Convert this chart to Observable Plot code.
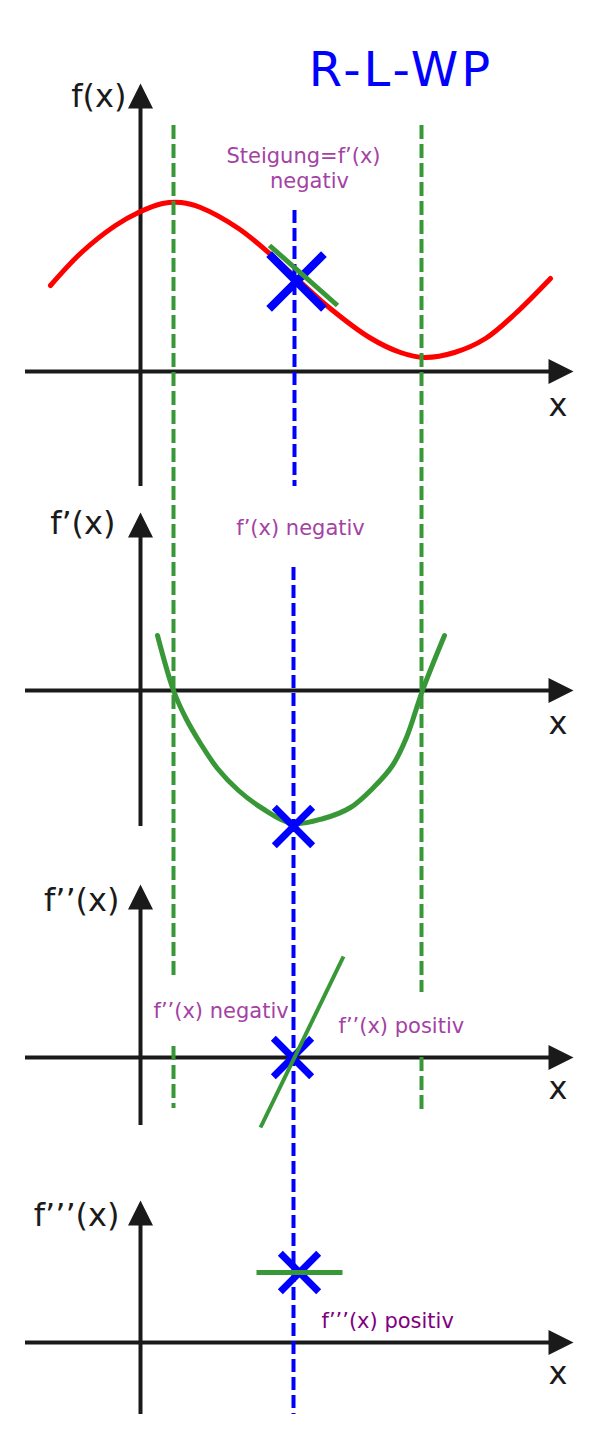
<!DOCTYPE html>
<html><head><meta charset="utf-8">
<script src="https://cdn.jsdelivr.net/npm/d3@7"></script>
<script src="https://cdn.jsdelivr.net/npm/@observablehq/plot@0.6"></script>
<style>html,body{margin:0;padding:0;background:#fff} svg{display:block}</style>
</head><body><div id="chart"></div>
<script>
// ---- data (math units) ----
const panels = ["f", "f1", "f2", "f3"];
const panelLabels = ["f(x)", "f’(x)", "f’’(x)", "f’’’(x)"];
// f(x): red curve
const fX = [-9.0, -5.9, -2.5, -0.2, 2.2, 4.1, 6.0, 9.8, 12.9, 15.5, 19.1, 22.9, 26.0, 28.4, 31.4, 34.5, 37.5, 41.0];
const fY = [8.6, 11.9, 14.6, 15.9, 16.8, 16.9, 16.4, 14.3, 11.8, 9.4, 6.2, 3.4, 1.9, 1.4, 1.9, 3.3, 5.8, 9.3];
// f'(x): parabola
const f1X = [1.7, 3.3, 4.5, 6.0, 7.7, 9.8, 12.2, 15.2, 18.3, 21.0, 23.3, 25.2, 26.6, 28.2, 30.4];
const f1Y = [5.5, 0, -2.7, -5.3, -7.8, -10.0, -11.8, -13.3, -12.8, -11.7, -9.7, -7.5, -4.7, 0, 5.5];
// f''(x): straight line
const f2X = [12.0, 20.3];
const f2Y = [-7.0, 10.1];
// f'''(x): constant
const f3X = [11.6, 20.2];
const f3Y = [7.0, 7.0];
// tangent at the inflection point
const tanX = [12.9, 19.7];
const tanY = [12.6, 6.6];
// extrema (green dashed) and inflection point (blue)
const extremaX = [3.3, 28.1];
const wpX = [15.6, 15.3, 15.2, 15.9];
const wpY = [9.0, -13.6, 0, 7.0];
const title = "R-L-WP";
const notesCentered = [
  {panel: "f", x: 16.3, v: 20.9, text: "Steigung=f’(x)"},
  {panel: "f", x: 16.9, v: 18.4, text: "negativ"},
  {panel: "f1", x: 16.0, v: 15.6, text: "f’(x) negativ"}
];
const notesLeft = [
  {panel: "f2", x: 1.3, v: 4.0, text: "f’’(x) negativ", color: "#a442a4"},
  {panel: "f2", x: 19.8, v: 2.5, text: "f’’(x) positiv", color: "#a442a4"},
  {panel: "f3", x: 18.1, v: 1.5, text: "f’’’(x) positiv", color: "#800080"}
];

// ---- layout ----
const base = {f: 106.7, f1: 74.8, f2: 38.1, f3: 9.6};
const yAxisBottom = {f: -11.5, f1: -13.6, f2: -6.8, f3: -7.2};
const yAxisTip = {f: 28.8, f1: 17.8, f2: 17.3, f3: 14.2};
const labelPos = {f: [-1.4, 26.5], f1: [-2.5, 15.7], f2: [-2.1, 14.7], f3: [-2.1, 11.7]};
const xLabelV = {f: -4.4, f1: -4.3, f2: -4.1, f3: -4.1};
const Y = (p, v) => base[p] + v;

const GREEN = "#389838", BLUE = "#0000ff", RED = "#ff0000", BLACK = "#1a1a1a", PURPLE = "#a442a4";
const FONT = "DejaVu Sans";

const arrowHead = {draw(ctx, size) {
  const s = Math.sqrt(size / Math.PI);
  ctx.moveTo(0, 0); ctx.lineTo(s / 2, s); ctx.lineTo(-s / 2, s); ctx.closePath();
}};

const axes = panels.map((p, i) => ({p, label: panelLabels[i]}));
const fData = fX.map((x, i) => ({x, y: Y("f", fY[i])}));
const f1Data = f1X.map((x, i) => ({x, y: Y("f1", f1Y[i])}));
const f2Data = f2X.map((x, i) => ({x, y: Y("f2", f2Y[i])}));
const f3Data = f3X.map((x, i) => ({x, y: Y("f3", f3Y[i])}));
const tanData = tanX.map((x, i) => ({x, y: Y("f", tanY[i])}));
const wp = panels.map((p, i) => ({p, x: wpX[i], y: Y(p, wpY[i])}));

// green dashed extrema lines (broken in the f'' panel)
const greenSegs = [
  {x: extremaX[0], y1: Y("f", 24.6), y2: Y("f2", 8.2)},
  {x: extremaX[0], y1: Y("f2", 1.1), y2: Y("f2", -5.1)},
  {x: extremaX[1], y1: Y("f", 24.6), y2: Y("f2", 6.5)},
  {x: extremaX[1], y1: Y("f2", 0), y2: Y("f2", -5.3)}
];
const blueSegs = [
  {x: 15.4, y1: Y("f", 16.1), y2: Y("f", -11.5)},
  {x: 15.3, y1: Y("f1", 12.3), y2: Y("f3", -7.2)}
];

const chart = Plot.plot({
  width: 603, height: 1438,
  margin: 0,
  x: {domain: [-14, 46.3], axis: null},
  y: {domain: [0, 143.8], axis: null},
  style: {background: "#fff"},
  marks: [
    // axes
    Plot.ruleY(axes, {y: d => Y(d.p, 0), x1: -11.5, x2: 41.5, stroke: BLACK, strokeWidth: 4}),
    Plot.ruleX(axes, {x: 0, y1: d => Y(d.p, yAxisBottom[d.p]), y2: d => Y(d.p, yAxisTip[d.p] - 2.2), stroke: BLACK, strokeWidth: 4}),
    Plot.dot(axes, {x: 0, y: d => Y(d.p, yAxisTip[d.p]), symbol: arrowHead, r: 25, fill: BLACK, stroke: null}),
    Plot.dot(axes, {x: 43.3, y: d => Y(d.p, 0), symbol: arrowHead, r: 25, rotate: 90, fill: BLACK, stroke: null}),
    // curves
    Plot.line(fData, {x: "x", y: "y", stroke: RED, strokeWidth: 5, curve: "catmull-rom"}),
    Plot.line(f1Data, {x: "x", y: "y", stroke: GREEN, strokeWidth: 5, curve: "catmull-rom"}),
    // dashed guides
    Plot.ruleX(greenSegs, {x: "x", y1: "y1", y2: "y2", stroke: GREEN, strokeWidth: 4, strokeDasharray: "14,5"}),
    Plot.ruleX(blueSegs, {x: "x", y1: "y1", y2: "y2", stroke: BLUE, strokeWidth: 4, strokeDasharray: "13,5"}),
    // inflection markers
    Plot.dot(wp.slice(0, 1), {x: "x", y: "y", symbol: "times", r: 25, stroke: BLUE, strokeWidth: 8}),
    Plot.dot(wp.slice(1), {x: "x", y: "y", symbol: "times", r: 17.5, stroke: BLUE, strokeWidth: 7}),
    // tangent & derivative lines
    Plot.line(tanData, {x: "x", y: "y", stroke: GREEN, strokeWidth: 5, strokeLinecap: "butt"}),
    Plot.line(f2Data, {x: "x", y: "y", stroke: GREEN, strokeWidth: 4, strokeLinecap: "butt"}),
    Plot.line(f3Data, {x: "x", y: "y", stroke: GREEN, strokeWidth: 5, strokeLinecap: "butt"}),
    // labels
    Plot.text(axes, {x: d => labelPos[d.p][0], y: d => Y(d.p, labelPos[d.p][1]), text: "label", textAnchor: "end", lineAnchor: "bottom", fontSize: 32, fontFamily: FONT, fill: BLACK}),
    Plot.text(axes, {x: 41.75, y: d => Y(d.p, xLabelV[d.p]), text: () => "x", textAnchor: "middle", lineAnchor: "bottom", fontSize: 32, fontFamily: FONT, fill: BLACK}),
    Plot.text(notesCentered, {x: "x", y: d => Y(d.panel, d.v), text: "text", textAnchor: "middle", lineAnchor: "bottom", fontSize: 21, fontFamily: FONT, fill: PURPLE}),
    Plot.text(notesLeft, {x: "x", y: d => Y(d.panel, d.v), text: "text", textAnchor: "start", lineAnchor: "bottom", fontSize: 21, fontFamily: FONT, fill: "color"}),
    Plot.text([title], {x: 26.05, y: Y("f", 28.6), text: d => d, textAnchor: "middle", lineAnchor: "bottom", fontSize: 48, fontFamily: FONT, fill: BLUE, className: "title"})
  ]
});
chart.querySelectorAll("g.title text").forEach(t => t.setAttribute("letter-spacing", "3"));
document.getElementById("chart").appendChild(chart);
</script>
</body></html>
